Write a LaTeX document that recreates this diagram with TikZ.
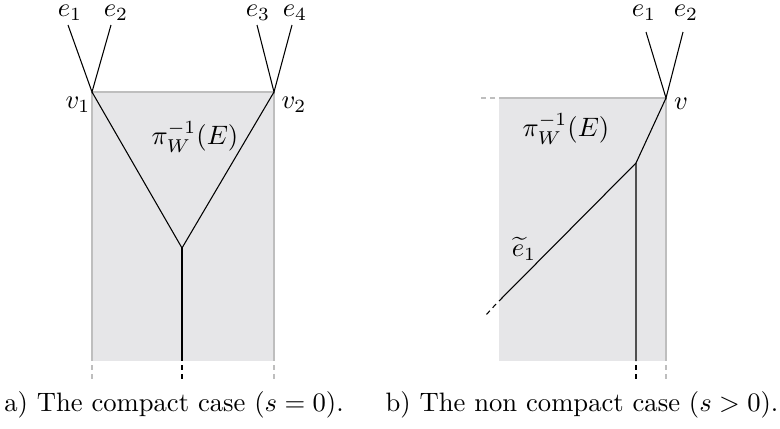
\documentclass[tikz,border=0pt]{standalone}
\usepackage{amsmath}
\begin{document}
\begin{tikzpicture}[x=0.0132cm,y=-0.0132cm,
  region/.style={fill=regiongray,draw=none},
  border/.style={draw=bordergray,line width=1.1pt},
  borderdash/.style={draw=bordergray,line width=1.1pt,dash pattern=on 1.9pt off 1.5pt},
  edge/.style={draw=black,line width=0.4pt},
  edgedash/.style={draw=black,line width=0.4pt,dash pattern=on 1.9pt off 1.5pt},
  lbl/.style={inner sep=0pt}]
\definecolor{regiongray}{RGB}{230,230,232}
\definecolor{bordergray}{RGB}{190,190,190}
\useasboundingbox (0,0) rectangle (780,428);
% ---------- panel a ----------
\coordinate (a1) at (92,92);
\coordinate (a2) at (274,92);
\coordinate (a3) at (274,361);
\coordinate (a4) at (92,361);
\coordinate (ac) at (182,248);
\coordinate (ab) at (182,361);
\coordinate (abs) at (182,365);
\coordinate (abd) at (182,381);
\coordinate (a4s) at (92,365);
\coordinate (a4d) at (92,381);
\coordinate (a3s) at (274,365);
\coordinate (a3d) at (274,381);
\coordinate (e1t) at (68,25);
\coordinate (e2t) at (111,25);
\coordinate (e3t) at (257,25);
\coordinate (e4t) at (292,25);
\fill[region] (a1) rectangle (a3);
\draw[border] (a4) -- (a1) -- (a2) -- (a3);
\draw[borderdash] (a4s) -- (a4d);
\draw[borderdash] (a3s) -- (a3d);
\draw[edge] (e1t) -- (a1) -- (e2t);
\draw[edge] (e3t) -- (a2) -- (e4t);
\draw[edge] (a1) -- (ac) -- (a2);
\draw[edge] (ac) -- (ab);
\draw[edgedash] (abs) -- (abd);
\node[lbl] (le1) at (70,13) {$e_1$};
\node[lbl] (le2) at (116,13) {$e_2$};
\node[lbl] (le3) at (258,13) {$e_3$};
\node[lbl] (le4) at (295,13) {$e_4$};
\node[lbl] (lv1) at (78,105) {$v_1$};
\node[lbl] (lv2) at (294,105) {$v_2$};
\node[lbl] (lpa) at (195,137) {$\pi_W^{-1}(E)$};
\node[lbl] (capa) at (174,405) {a) The compact case ($s=0$).};
% ---------- panel b ----------
\coordinate (b1) at (499,98);
\coordinate (b2) at (666,98);
\coordinate (b3) at (666,361);
\coordinate (b1s) at (495,98);
\coordinate (b1d) at (480,98);
\coordinate (b3s) at (666,365);
\coordinate (b3d) at (666,381);
\coordinate (bc) at (636,163);
\coordinate (bb) at (636,361);
\coordinate (bbs) at (636,365);
\coordinate (bbd) at (636,381);
\coordinate (bl) at (499,301);
\coordinate (bls) at (496,304);
\coordinate (bld) at (486,315);
\coordinate (f1t) at (646,32);
\coordinate (f2t) at (683,32);
\fill[region] (b1) rectangle (b3);
\draw[border] (b1) -- (b2) -- (b3);
\draw[borderdash] (b1s) -- (b1d);
\draw[borderdash] (b3s) -- (b3d);
\draw[edge] (f1t) -- (b2) -- (f2t);
\draw[edge] (b2) -- (bc) -- (bb);
\draw[edgedash] (bbs) -- (bbd);
\draw[edge] (bc) -- (bl);
\draw[edgedash] (bls) -- (bld);
\node[lbl] (lf1) at (644,13) {$e_1$};
\node[lbl] (lf2) at (686,13) {$e_2$};
\node[lbl] (lv) at (681,104) {$v$};
\node[lbl] (lpb) at (566,129) {$\pi_W^{-1}(E)$};
\node[lbl] (lte) at (524,249) {$\widetilde{e}_1$};
\node[lbl] (capb) at (582,405) {b) The non compact case ($s>0$).};
\end{tikzpicture}
\end{document}
